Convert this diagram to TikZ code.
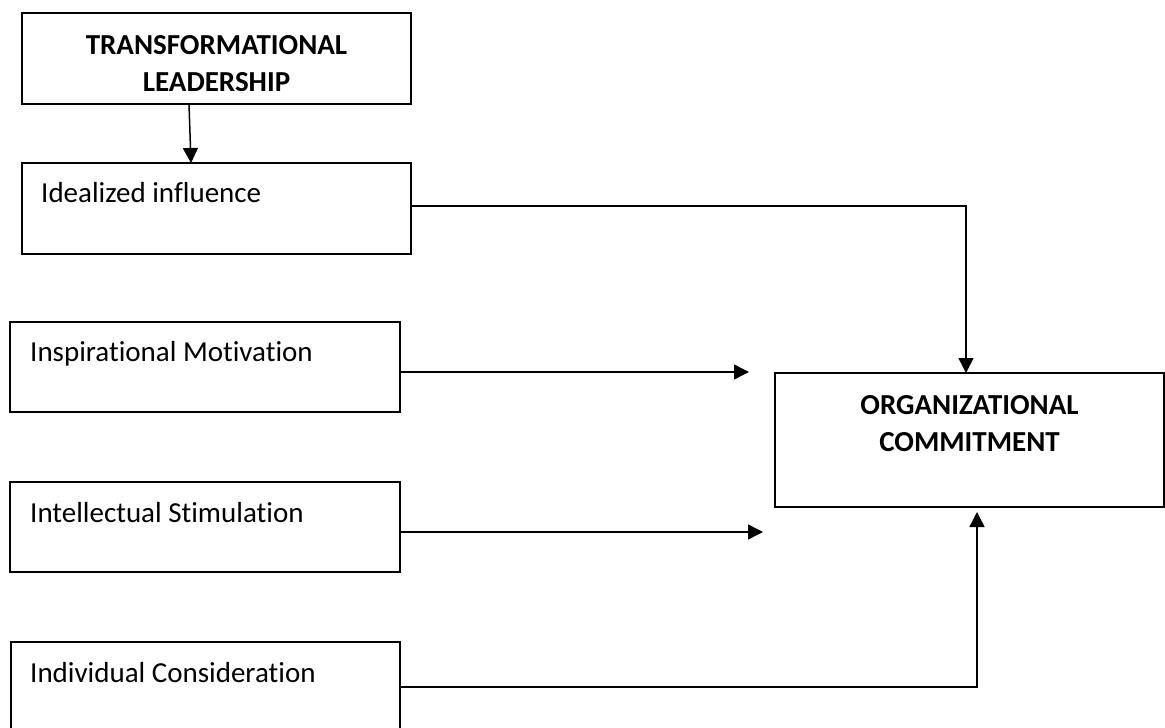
\documentclass[tikz,border=0pt]{standalone}
\usepackage{fontspec}
\setmainfont{Carlito}[Ligatures=NoCommon]
\usetikzlibrary{arrows.meta}

\begin{document}
\begin{tikzpicture}[x=1pt,y=-1pt,
    box/.style={draw, line width=1.6pt, anchor=north west, inner sep=0pt, outer sep=0pt,
      minimum width=389pt, minimum height=91pt},
    boxtext/.style={anchor=base west, inner sep=0pt, font=\fontsize{29}{37}\selectfont},
    headtext/.style={anchor=north, inner sep=0pt, align=center,
      font=\fontsize{29}{37}\selectfont\bfseries},
    link/.style={line width=1.5pt},
    arr/.style={link, -{Triangle[length=15pt,width=15pt]}}]
  \useasboundingbox (0,0) rectangle (1165,728);
  \node[box] (tl) at (22,13) {};
  \node[headtext] (tltext) at ([yshift=-22pt]tl.north) {TRANSFORMATIONAL\\LEADERSHIP};
  \node[box] (ideal) at (22,163) {};
  \node[boxtext] (idealtext) at ([shift={(19pt,-39pt)}]ideal.north west) {Idealized influence};
  \node[box, minimum width=390pt, minimum height=90pt] (insp) at (10,322) {};
  \node[boxtext] (insptext) at ([shift={(20pt,-39pt)}]insp.north west) {Inspirational Motivation};
  \node[box, minimum width=390pt, minimum height=90pt] (intel) at (10,482) {};
  \node[boxtext] (inteltext) at ([shift={(20pt,-40pt)}]intel.north west) {Intellectual Stimulation};
  \node[box, minimum height=90pt] (ind) at (11,642) {};
  \node[boxtext] (indtext) at ([shift={(19pt,-40pt)}]ind.north west) {Individual Consideration};
  \node[box, minimum height=134pt] (org) at (775,373) {};
  \node[headtext] (orgtext) at ([yshift=-22pt]org.north) {ORGANIZATIONAL\\COMMITMENT};
  \coordinate (imtip) at (749,372);
  \coordinate (istip) at (763,532);
  \draw[arr] ([xshift=-27.5pt]tl.south) -- ([xshift=-25.5pt]ideal.north);
  \draw[arr] ([yshift=2.5pt]ideal.east) -| ([xshift=-3.5pt]org.north);
  \draw[arr] ([yshift=-5pt]insp.east) -- (imtip);
  \draw[arr] ([yshift=-5pt]intel.east) -- (istip);
  \draw[arr] (ind.east) -| ([shift={(7.5pt,-5pt)}]org.south);
\end{tikzpicture}
\end{document}
